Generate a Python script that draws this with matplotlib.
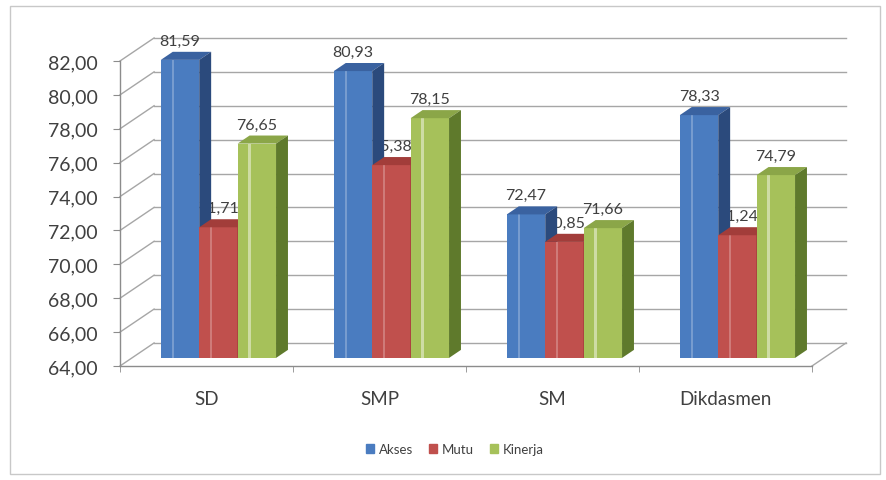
import matplotlib.pyplot as plt
import numpy as np
from matplotlib.patches import Polygon, Rectangle, Patch

plt.rcParams['font.family'] = ['Lato', 'DejaVu Sans']

categories = ['SD', 'SMP', 'SM', 'Dikdasmen']
series_names = ['Akses', 'Mutu', 'Kinerja']
akses = [81.59, 80.93, 72.47, 78.33]
mutu = [71.71, 75.38, 70.85, 71.24]
kinerja = [76.65, 78.15, 71.66, 74.79]
y_ticks = np.arange(64, 83, 2)

# front / top / side colours per series
front_cols = ['#4a7cc0', '#c0504d', '#a6c15a']
top_cols = ['#3a62a0', '#a23d3a', '#8ba648']
side_cols = ['#2b4a7c', '#8a2e2b', '#5f7a2c']

ymin, ymax = 64, 82
# depth of the 3d box, in data units (x in categories, y in values)
Dx, Dy = 0.197, 1.36
f0, f1 = 0.35, 0.70          # bar front/back position inside the depth
bw = 0.222                   # single bar width

W, H = 887, 481
fig = plt.figure(figsize=(W / 100, H / 100), dpi=100)
ax = fig.add_axes([120 / W, (H - 367) / H, 692 / W, 305 / H])
ax.set_xlim(-0.5, 3.5)
ax.set_ylim(ymin, ymax)

grid_col = '#a6a6a6'
axis_col = '#8c8c8c'
txt_col = '#404040'

# back wall gridlines and side wall diagonals
for v in y_ticks:
    ax.plot([-0.5 + Dx, 3.5 + Dx], [v + Dy, v + Dy], color=grid_col, lw=1, zorder=0.5, clip_on=False)
    ax.plot([-0.5, -0.5 + Dx], [v, v + Dy], color=grid_col, lw=1, zorder=0.5, clip_on=False)
# right edge of the floor
ax.plot([3.5, 3.5 + Dx], [ymin, ymin + Dy], color=grid_col, lw=1, zorder=0.5, clip_on=False)

data = [akses, mutu, kinerja]
z = 2
for ci in range(len(categories)):
    for si in range(3):
        v = data[si][ci]
        xl = ci + (si - 1.5) * bw + f0 * Dx
        xr = xl + bw
        yb = ymin + f0 * Dy
        yt = v + f0 * Dy
        ddx = (f1 - f0) * Dx
        ddy = (f1 - f0) * Dy
        ax.bar(xl, v - ymin, bottom=yb, width=bw, align='edge', color=front_cols[si],
               lw=0, zorder=z, clip_on=False)
        # light stripe on the front face
        ax.bar(xl + bw * 0.28, v - ymin, bottom=yb, width=bw * 0.06, align='edge',
               color='white', alpha=0.25 if si != 2 else 0.45, lw=0, zorder=z + 0.01, clip_on=False)
        top = Polygon([(xl, yt), (xr, yt), (xr + ddx, yt + ddy), (xl + ddx, yt + ddy)],
                      closed=True, fc=top_cols[si], lw=0, zorder=z + 0.02, clip_on=False)
        side = Polygon([(xr, yb), (xr + ddx, yb + ddy), (xr + ddx, yt + ddy), (xr, yt)],
                       closed=True, fc=side_cols[si], lw=0, zorder=z + 0.02, clip_on=False)
        ax.add_patch(top)
        ax.add_patch(side)
        ax.annotate('{:.2f}'.format(v).replace('.', ','), (xl + bw / 2, yt + ddy),
                    xytext=(0, 4), textcoords='offset pixels', ha='center', va='bottom',
                    fontsize=11.5, color=txt_col, zorder=1, annotation_clip=False)
        z += 0.1

for s in ['top', 'right']:
    ax.spines[s].set_visible(False)
for s in ['left', 'bottom']:
    ax.spines[s].set_color(axis_col)
    ax.spines[s].set_linewidth(1)
    ax.spines[s].set_zorder(1)

ax.set_yticks(y_ticks)
ax.set_yticklabels(['{:.2f}'.format(v).replace('.', ',') for v in y_ticks])
ax.tick_params(axis='y', direction='out', length=5, color=axis_col, labelsize=14,
               labelcolor=txt_col, pad=11)
ax.set_xticks(range(len(categories)))
ax.set_xticklabels(categories)
ax.tick_params(axis='x', which='major', length=0, labelsize=13.5, labelcolor=txt_col, pad=17)
ax.set_xticks(np.arange(-0.5, 3.6, 1), minor=True)
ax.tick_params(axis='x', which='minor', direction='out', length=4, color=axis_col)
ax.patch.set_visible(False)

handles = [Patch(color=c, label=n) for c, n in zip(front_cols, series_names)]
fig.legend(handles=handles, loc='center', bbox_to_anchor=(455 / W, 1 - 450 / H), ncol=3,
           frameon=False, fontsize=9.5, handlelength=0.6, handleheight=0.6,
           handletextpad=0.4, columnspacing=1.2, labelcolor=txt_col)

fig.add_artist(Rectangle((10 / W, 6 / H), 870 / W, 468 / H, transform=fig.transFigure,
                         fill=False, ec='#c8c8c8', lw=1))

fig.savefig('out.png', dpi=100, facecolor='white')
